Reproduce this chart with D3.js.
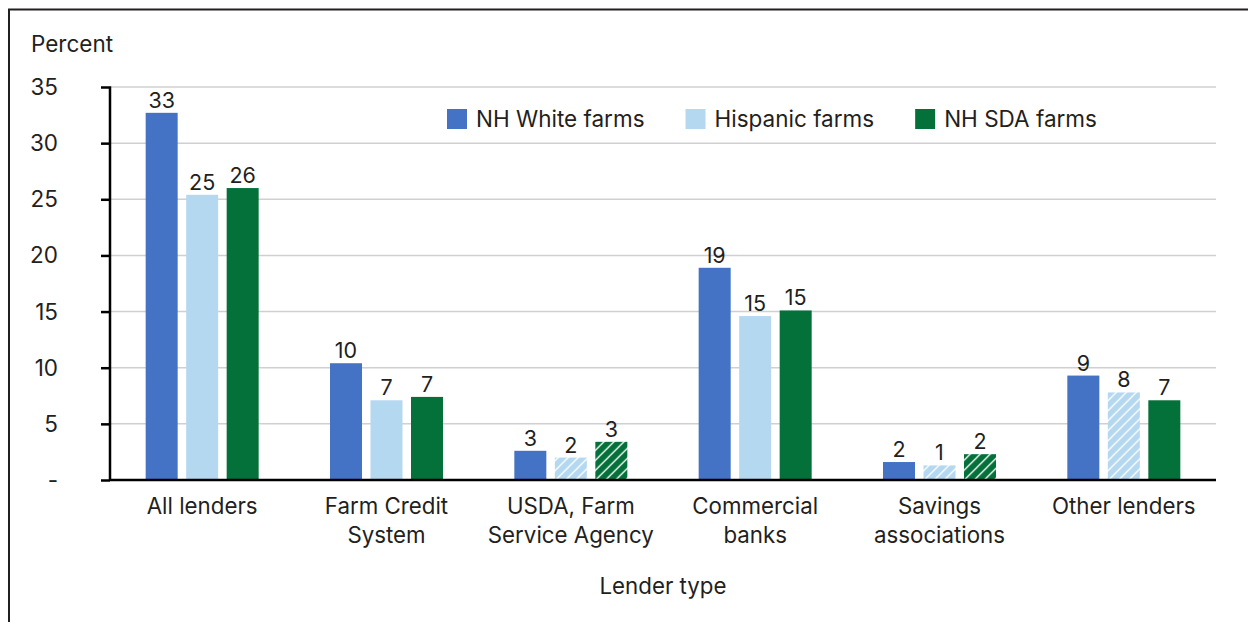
<!DOCTYPE html>
<html>
<head>
<meta charset="utf-8">
<script src="https://cdn.jsdelivr.net/npm/d3@7"></script>
<style>
  html, body { margin: 0; padding: 0; background: #fff; }
  svg { display: block; font-family: Inter, "Noto Sans", sans-serif; }
</style>
</head>
<body>
<svg id="chart" width="1248" height="622"></svg>
<script>
// Share of farms borrowing, by lender type and producer group (percent)
const categories = [
  ["All lenders"],
  ["Farm Credit", "System"],
  ["USDA, Farm", "Service Agency"],
  ["Commercial", "banks"],
  ["Savings", "associations"],
  ["Other lenders"]
];
const seriesNames = ["NH White farms", "Hispanic farms", "NH SDA farms"];
const whiteValues    = [32.7, 10.4, 2.6, 18.9, 1.6, 9.3];
const hispanicValues = [25.4, 7.1, 2.0, 14.6, 1.3, 7.8];
const sdaValues      = [26.0, 7.4, 3.4, 15.1, 2.3, 7.1];
// Estimates flagged as less reliable are drawn hatched
const hispanicHatched = [false, false, true, false, true, true];
const sdaHatched      = [false, false, true, false, true, false];
const yTicks = [0, 5, 10, 15, 20, 25, 30, 35];
const yTickLabels = ["-", "5", "10", "15", "20", "25", "30", "35"];

const colors = ["#4472c4", "#b5d8f1", "#04703a"];
const series = [
  { name: seriesNames[0], values: whiteValues, hatched: whiteValues.map(() => false) },
  { name: seriesNames[1], values: hispanicValues, hatched: hispanicHatched },
  { name: seriesNames[2], values: sdaValues, hatched: sdaHatched }
];

const svg = d3.select("#chart");
const W = 1248, H = 622;
const margin = { left: 110, right: 32, top: 87, bottom: 142 };
const plotW = W - margin.left - margin.right;
const plotH = H - margin.top - margin.bottom;
const ink = "#231f20";

// Outer frame (top and left edges visible; the rest runs past the page)
svg.append("path")
  .attr("d", `M9,${H + 5}V9.5H${W + 5}`)
  .attr("fill", "none").attr("stroke", ink).attr("stroke-width", 2);

// Hatch patterns
const defs = svg.append("defs");
colors.forEach((c, i) => {
  const p = defs.append("pattern")
    .attr("id", "hatch" + i)
    .attr("patternUnits", "userSpaceOnUse")
    .attr("width", 10).attr("height", 10);
  p.append("rect").attr("width", 10).attr("height", 10).attr("fill", c);
  p.append("path")
    .attr("d", "M-2,12L12,-2M-7,7L7,-7M3,17L17,3")
    .attr("stroke", "#fff").attr("stroke-width", 1.3);
});

const g = svg.append("g").attr("transform", `translate(${margin.left},${margin.top})`);

const x0 = d3.scaleBand().domain(d3.range(categories.length)).range([0, plotW]);
const barW = 32, barGap = 8.5;
const groupW = 3 * barW + 2 * barGap;
const x1 = d3.scaleBand().domain(d3.range(series.length))
  .range([x0.bandwidth() / 2 - groupW / 2, x0.bandwidth() / 2 + groupW / 2])
  .paddingInner(barGap / (barW + barGap));
const y = d3.scaleLinear().domain([0, 35]).range([plotH, 0]);

// Gridlines
g.append("g").selectAll("line").data(yTicks.filter(t => t > 0)).join("line")
  .attr("x1", 0).attr("x2", plotW)
  .attr("y1", d => y(d)).attr("y2", d => y(d))
  .attr("stroke", "#d0d0d0").attr("stroke-width", 1.5);

// Bars and value labels
const groups = g.append("g").selectAll("g").data(categories).join("g")
  .attr("transform", (d, i) => `translate(${x0(i)},0)`);

series.forEach((s, si) => {
  groups.append("rect")
    .attr("x", x1(si))
    .attr("width", x1.bandwidth())
    .attr("y", (d, i) => y(s.values[i]))
    .attr("height", (d, i) => y(0) - y(s.values[i]))
    .attr("fill", (d, i) => s.hatched[i] ? `url(#hatch${si})` : colors[si]);
  groups.append("text")
    .attr("x", x1(si) + x1.bandwidth() / 2)
    .attr("y", (d, i) => y(s.values[i]) - 5)
    .attr("text-anchor", "middle")
    .attr("font-size", 21.5)
    .attr("fill", ink)
    .text((d, i) => d3.format(".0f")(s.values[i]));
});

// Y axis
const yAxis = d3.axisLeft(y).tickValues(yTicks).tickSize(9).tickFormat("");
const ya = g.append("g").call(yAxis);
ya.select(".domain").attr("stroke", "#000").attr("stroke-width", 2.5)
  .attr("d", `M-9,0.5H0V${plotH}`);
ya.selectAll(".tick line").attr("stroke", "#000").attr("stroke-width", 2.5);
ya.selectAll(".tick").filter(d => d === 35).select("line").remove();

g.append("g").selectAll("text").data(yTicks).join("text")
  .attr("x", -52)
  .attr("y", d => y(d) + 8)
  .attr("text-anchor", "end")
  .attr("font-size", 22.5)
  .attr("fill", ink)
  .text((d, i) => yTickLabels[i]);

// Baseline
g.append("line").attr("x1", 0).attr("x2", plotW)
  .attr("y1", plotH).attr("y2", plotH)
  .attr("stroke", "#000").attr("stroke-width", 2.5);

// Category labels
const catLabels = g.append("g").selectAll("text").data(categories).join("text")
  .attr("x", (d, i) => x0(i) + x0.bandwidth() / 2)
  .attr("y", plotH + 34)
  .attr("text-anchor", "middle")
  .attr("font-size", 22.3)
  .attr("fill", ink);
catLabels.selectAll("tspan").data(d => d).join("tspan")
  .attr("x", function () { return d3.select(this.parentNode).attr("x"); })
  .attr("dy", (d, i) => i === 0 ? 0 : 29)
  .text(d => d);

// Axis titles
svg.append("text").attr("x", 31).attr("y", 52)
  .attr("font-size", 22.5).attr("fill", ink).text("Percent");
svg.append("text").attr("x", margin.left + plotW / 2).attr("y", 594)
  .attr("text-anchor", "middle")
  .attr("font-size", 22.3).attr("fill", ink).text("Lender type");

// Legend: swatch, label, then a fixed gap before the next entry
const leg = svg.append("g").attr("transform", "translate(447,109)");
let lx = 0;
series.forEach((s, i) => {
  const e = leg.append("g").attr("transform", `translate(${lx},0)`);
  e.append("rect").attr("width", 20).attr("height", 20).attr("fill", colors[i]);
  const t = e.append("text").attr("x", 29).attr("y", 18)
    .attr("font-size", 22.5).attr("fill", ink).text(s.name);
  lx += 29 + t.node().getComputedTextLength() + 41;
});
</script>
</body>
</html>
